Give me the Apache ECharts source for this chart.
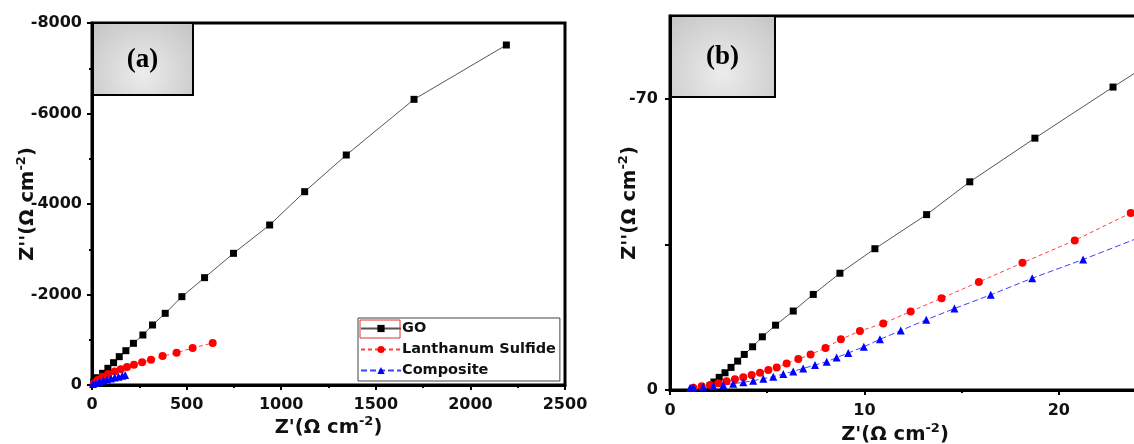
<!DOCTYPE html>
<html>
<head>
<meta charset="utf-8">
<title>Nyquist plots</title>
<script src="https://cdn.jsdelivr.net/npm/echarts@6/dist/echarts.min.js"></script>
<style>
  html, body { margin: 0; padding: 0; background: #fff; }
  #main { width: 1134px; height: 444px; }
</style>
</head>
<body>
<div id="main"></div>
<script>
// panel (a): full range, Z' and Z'' in ohm cm-2
var goA_x  = [8, 29, 56, 84, 114, 144, 179, 219, 269, 320, 387, 475, 595, 748, 939, 1124, 1344, 1702, 2190];
var goA_y  = [-60, -161, -258, -369, -493, -626, -758, -921, -1105, -1326, -1584, -1952, -2372, -2910, -3536, -4272, -5083, -6313, -7514];
var lasA_x = [10, 30, 55, 85, 120, 152, 185, 222, 265, 312, 373, 447, 532, 638];
var lasA_y = [-40, -110, -180, -245, -300, -350, -398, -450, -505, -560, -640, -712, -818, -928];
var comA_x = [5, 20, 40, 60, 80, 100, 120, 140, 160, 175];
var comA_y = [-20, -45, -75, -100, -122, -143, -163, -183, -203, -221];

// panel (b): low impedance zoom
var goB_x  = [2.06, 2.26, 2.53, 2.83, 3.14, 3.48, 3.82, 4.25, 4.75, 5.43, 6.34, 7.37, 8.74, 10.54, 13.20, 15.42, 18.77, 22.79, 27.0];
var goB_y  = [-0.96, -1.92, -3.04, -4.15, -5.44, -6.95, -8.56, -10.4, -12.8, -15.6, -19.0, -23.0, -28.1, -34.0, -42.2, -50.1, -60.6, -72.9, -85.5];
var lasB_x = [1.20, 1.63, 2.06, 2.48, 2.91, 3.34, 3.77, 4.20, 4.63, 5.06, 5.49, 6.00, 6.60, 7.23, 8.00, 8.79, 9.77, 10.97, 12.38, 13.97, 15.89, 18.13, 20.82, 23.70];
var lasB_y = [-0.56, -0.88, -1.2, -1.6, -2.08, -2.56, -3.04, -3.6, -4.15, -4.8, -5.44, -6.4, -7.43, -8.56, -10.1, -12.2, -14.2, -16.0, -18.9, -22.1, -26.0, -30.6, -36.0, -42.6];
var comB_x = [1.03, 1.20, 1.71, 2.23, 2.74, 3.25, 3.77, 4.28, 4.80, 5.31, 5.83, 6.34, 6.85, 7.46, 8.06, 8.57, 9.17, 9.97, 10.80, 11.87, 13.18, 14.63, 16.50, 18.63, 21.25, 24.20];
var comB_y = [-0.5, -0.64, -0.8, -0.96, -1.2, -1.52, -1.84, -2.24, -2.72, -3.2, -3.84, -4.48, -5.2, -6.0, -6.8, -7.8, -8.9, -10.4, -12.2, -14.3, -16.9, -19.6, -22.9, -26.9, -31.4, -36.8];

var names = ['GO', 'Lanthanum Sulfide', 'Composite'];
var panelLabels = ['(a)', '(b)'];
var xTitle = "{t|Z'(Ω cm}{s|-2}{t|)}";
var yTitle = "{t|Z''(Ω cm}{s|-2}{t|)}";

function pairs(xs, ys) {
    return xs.map(function (x, i) { return [x, ys[i]]; });
}

// grid boxes in px
var gA = { left: 92, top: 23, width: 473, height: 362 };
var gB = { left: 670, top: 16, width: 486, height: 374 };

var fontAxis = 'DejaVu Sans';
var nameStyle = {
    rich: {
        t: { fontFamily: fontAxis, fontWeight: 'bold', fontSize: 19.5, color: '#111' },
        s: { fontFamily: fontAxis, fontWeight: 'bold', fontSize: 13, color: '#111', padding: [0, 0, 12, 0] }
    }
};
function plain(v) { return String(v); }

function labelStyle(margin, extra) {
    var o = { color: '#111', fontFamily: fontAxis, fontWeight: 'bold', fontSize: 16, margin: margin, formatter: plain };
    for (var k in extra) o[k] = extra[k];
    return o;
}

function axisBase(extra) {
    var o = {
        type: 'value',
        nameTextStyle: nameStyle,
        nameMoveOverlap: false,
        axisLine: { onZero: false, lineStyle: { color: '#000', width: 3 } },
        axisTick: { length: 5, lineStyle: { color: '#000', width: 2 } },
        minorTick: { show: true, splitNumber: 2, length: 3, lineStyle: { color: '#000', width: 2 } },
        splitLine: { show: false },
        axisLabel: labelStyle(10)
    };
    for (var k in extra) o[k] = extra[k];
    return o;
}

var styles = [
    { symbol: 'rect', size: 7, color: '#000', line: '#555', type: 'solid' },
    { symbol: 'circle', size: 8, color: '#ff0000', line: '#ff4040', type: [4, 3] },
    { symbol: 'triangle', size: 8, color: '#0000ff', line: '#4040ff', type: [6, 3] }
];

function mkSeries(i, data, panel) {
    var s = styles[i];
    return {
        name: names[i], type: 'line', xAxisIndex: panel, yAxisIndex: panel,
        data: data, symbol: s.symbol, symbolSize: s.size, clip: true,
        itemStyle: { color: s.color },
        lineStyle: { color: s.line, width: 1, type: s.type },
        emphasis: { disabled: true }, animation: false
    };
}

function labelBox(g, w, h, text) {
    return {
        type: 'group', z: 50,
        children: [
            {
                type: 'rect',
                shape: { x: g.left, y: g.top, width: w, height: h },
                style: {
                    fill: new echarts.graphic.RadialGradient(0.5, 0.7, 0.9, [
                        { offset: 0, color: '#ececec' }, { offset: 1, color: '#c6c6c6' }
                    ]),
                    stroke: '#000', lineWidth: 2
                }
            },
            {
                type: 'text',
                style: {
                    text: text, x: g.left + w / 2, y: g.top + h / 2 + 1,
                    align: 'center', verticalAlign: 'middle',
                    font: 'bold 27px "Liberation Serif"', fill: '#000'
                }
            }
        ]
    };
}

var chart = echarts.init(document.getElementById('main'));
var option = {
    animation: false,
    backgroundColor: '#fff',
    grid: [
        { left: gA.left, top: gA.top, width: gA.width, height: gA.height, show: true, borderColor: '#000', borderWidth: 3, outerBoundsMode: 'none' },
        { left: gB.left, top: gB.top, width: gB.width, height: gB.height, show: true, borderColor: '#000', borderWidth: 3, outerBoundsMode: 'none' }
    ],
    xAxis: [
        axisBase({
            gridIndex: 0, min: 0, max: 2500, interval: 500,
            name: xTitle, nameLocation: 'middle', nameGap: 30,
            axisLabel: labelStyle(12)
        }),
        axisBase({
            gridIndex: 1, min: 0, max: 25, interval: 10,
            name: xTitle, nameLocation: 'middle', nameGap: 32,
            nameTextStyle: { rich: nameStyle.rich, padding: [0, 36, 0, 0] },
            axisLabel: labelStyle(13)
        })
    ],
    yAxis: [
        axisBase({
            gridIndex: 0, min: -8000, max: 0, interval: 2000, inverse: true,
            name: yTitle, nameLocation: 'middle', nameGap: 52
        }),
        axisBase({
            gridIndex: 1, min: -90, max: 0, inverse: true,
            name: yTitle, nameLocation: 'middle', nameGap: 28,
            minorTick: { show: false },
            axisTick: { length: 5, customValues: [-70, -35, 0], lineStyle: { color: '#000', width: 2 } },
            axisLabel: labelStyle(12, { customValues: [-70, 0] })
        })
    ],
    legend: {
        data: names, orient: 'vertical', left: 358, top: 318,
        itemWidth: 40, itemHeight: 9, itemGap: 6, padding: [3, 4, 3, 2],
        backgroundColor: '#fff', borderColor: '#444', borderWidth: 1,
        selectedMode: false,
        textStyle: { fontFamily: fontAxis, fontWeight: 'bold', fontSize: 14.5, color: '#111', padding: [0, 0, 0, -4] }
    },
    graphic: [
        labelBox(gA, 101, 72, panelLabels[0]),
        labelBox(gB, 105, 81, panelLabels[1]),
        { type: 'rect', z: 60, shape: { x: 360, y: 320, width: 40, height: 18 }, style: { fill: 'none', stroke: '#e53030', lineWidth: 1 } }
    ],
    series: [
        mkSeries(0, pairs(goA_x, goA_y), 0),
        mkSeries(1, pairs(lasA_x, lasA_y), 0),
        mkSeries(2, pairs(comA_x, comA_y), 0),
        mkSeries(0, pairs(goB_x, goB_y), 1),
        mkSeries(1, pairs(lasB_x, lasB_y), 1),
        mkSeries(2, pairs(comB_x, comB_y), 1)
    ]
};
chart.setOption(option);
</script>
</body>
</html>
